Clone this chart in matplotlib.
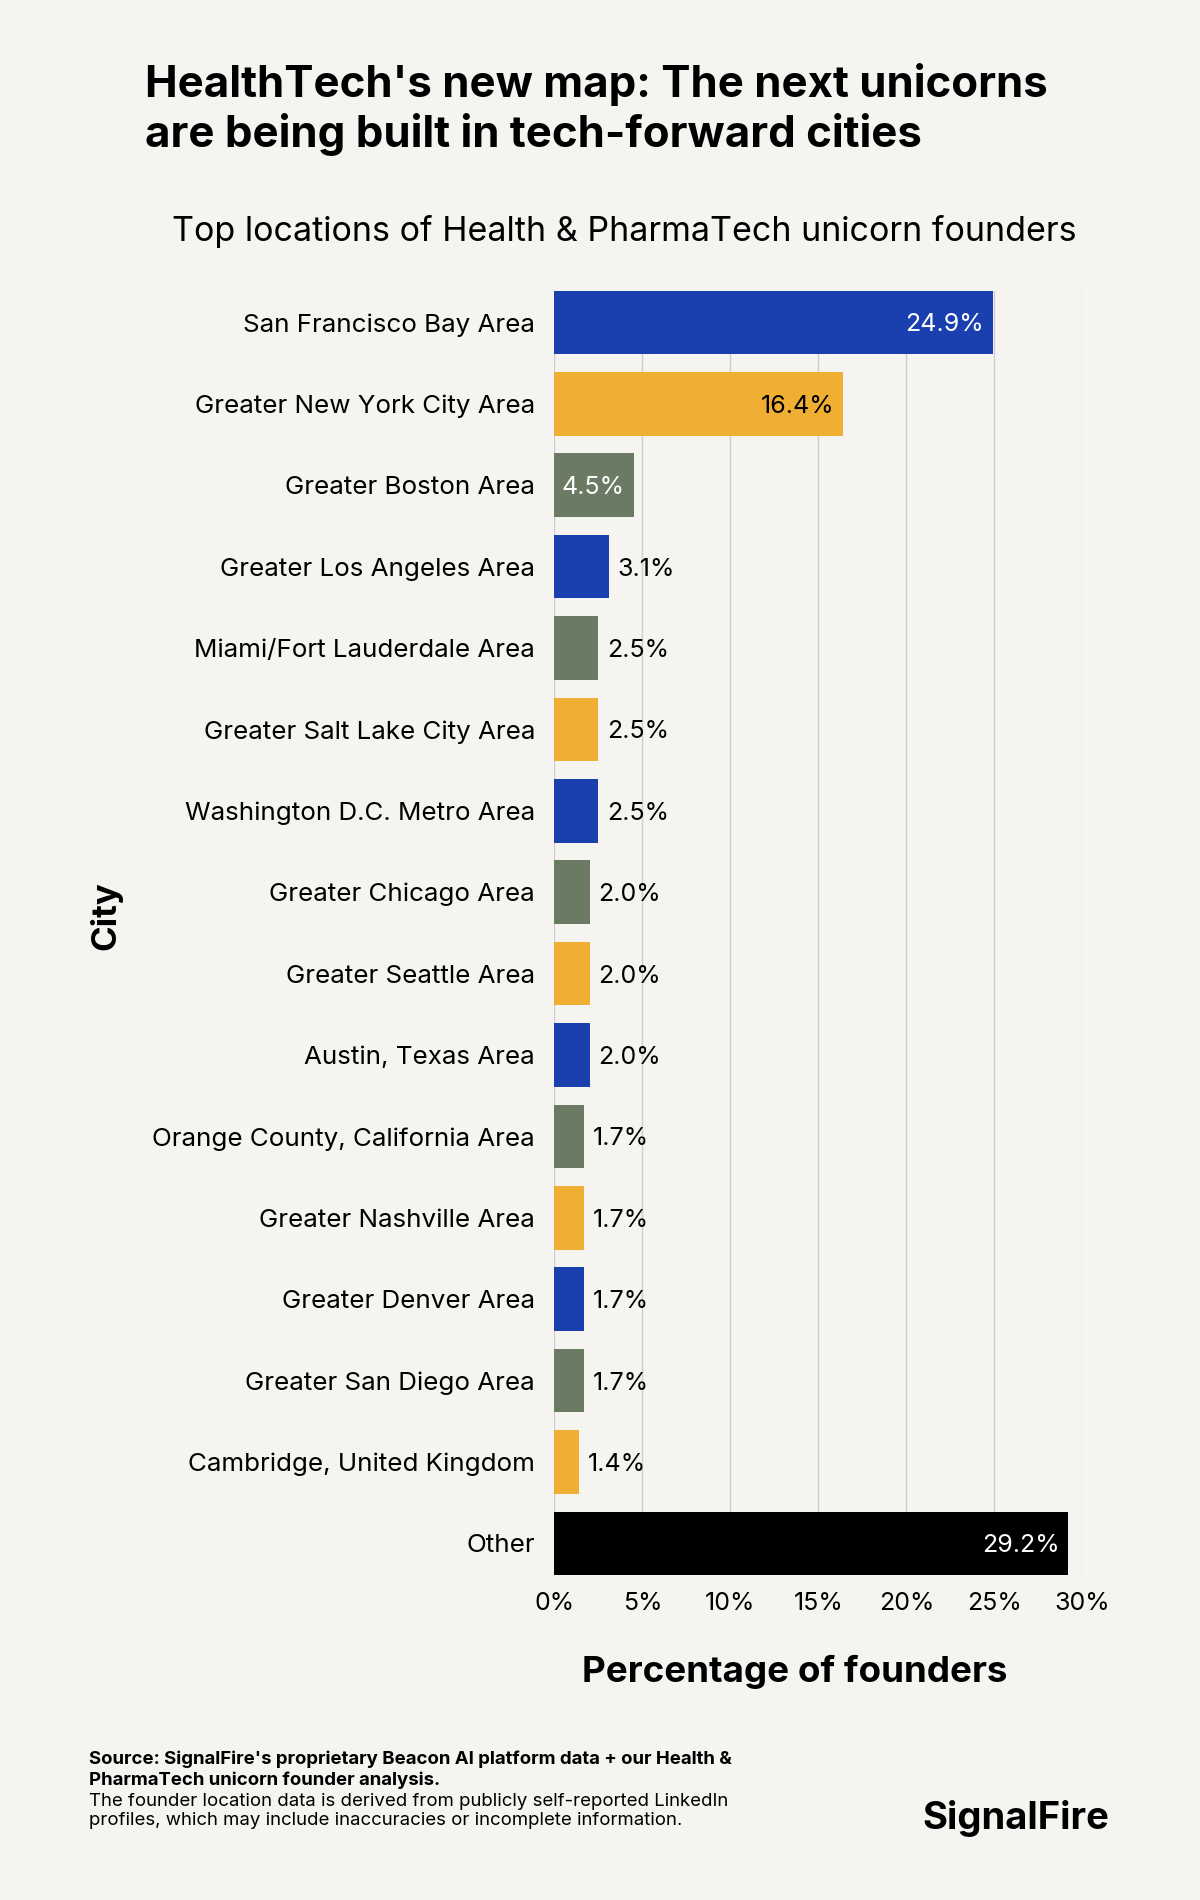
import matplotlib.pyplot as plt
import matplotlib.ticker as mticker

plt.rcParams['font.family'] = ['Inter', 'DejaVu Sans']

cities = ["San Francisco Bay Area", "Greater New York City Area", "Greater Boston Area",
          "Greater Los Angeles Area", "Miami/Fort Lauderdale Area", "Greater Salt Lake City Area",
          "Washington D.C. Metro Area", "Greater Chicago Area", "Greater Seattle Area",
          "Austin, Texas Area", "Orange County, California Area", "Greater Nashville Area",
          "Greater Denver Area", "Greater San Diego Area", "Cambridge, United Kingdom", "Other"]
values = [24.9, 16.4, 4.5, 3.1, 2.5, 2.5, 2.5, 2.0, 2.0, 2.0, 1.7, 1.7, 1.7, 1.7, 1.4, 29.2]

BLUE, YEL, GRN = "#1a3fae", "#f0ae32", "#6b7a62"
colors = [BLUE, YEL, GRN, BLUE, GRN, YEL, BLUE, GRN, YEL, BLUE, GRN, YEL, BLUE, GRN, YEL, "#000000"]
bg = "#f5f4f0"

fig = plt.figure(figsize=(12, 19), dpi=100, facecolor=bg)
ax = fig.add_axes([0.462, 0.171, 0.44, 0.676], facecolor=bg)

y = list(range(len(cities)))
ax.barh(y, values, color=colors, height=0.78, zorder=3)
ax.set_ylim(len(cities) - 0.61, -0.39)
ax.set_xlim(0, 30)
ax.set_yticks(y)
ax.set_yticklabels(cities, fontsize=18.7)
ax.xaxis.set_major_locator(mticker.MultipleLocator(5))
ax.xaxis.set_major_formatter(mticker.FuncFormatter(lambda v, p: f"{v:.0f}%"))
ax.tick_params(axis='x', labelsize=18, length=0, pad=12)
ax.tick_params(axis='y', length=0, pad=14)
ax.grid(axis='x', color="#cfcfcf", linewidth=1, zorder=0)
for s in ax.spines.values():
    s.set_visible(False)

for i, v in enumerate(values):
    if v > 4:
        tc = "black" if colors[i] == YEL else "white"
        ax.text(v - 0.5, i, f"{v:.1f}%", ha='right', va='center_baseline', fontsize=18, color=tc, zorder=4)
    else:
        ax.text(v + 0.5, i, f"{v:.1f}%", ha='left', va='center_baseline', fontsize=18, color="black", zorder=4)

ax.set_xlabel("Percentage of founders", fontsize=26.5, fontweight='bold', labelpad=30)
ax.xaxis.set_label_coords(0.455, -0.062)
fig.text(0.088, 0.518, "City", rotation=90, fontsize=25, fontweight='bold', ha='center', va='center')

fig.text(0.121, 0.967, "HealthTech's new map: The next unicorns\nare being built in tech-forward cities",
         fontsize=31.5, fontweight='bold', va='top', ha='left', linespacing=1.2)
fig.text(0.52, 0.878, "Top locations of Health & PharmaTech unicorn founders",
         fontsize=24.5, ha='center', va='center')

fig.text(0.074, 0.0785, "Source: SignalFire's proprietary Beacon AI platform data + our Health &\nPharmaTech unicorn founder analysis.",
         fontsize=13.4, fontweight='bold', va='top', ha='left')
fig.text(0.074, 0.0565, "The founder location data is derived from publicly self-reported LinkedIn\nprofiles, which may include inaccuracies or incomplete information.",
         fontsize=13.4, va='top', ha='left')
fig.text(0.924, 0.043, "SignalFire", fontsize=27.5, fontweight='bold', ha='right', va='center')

fig.savefig("out.png", facecolor=bg)
